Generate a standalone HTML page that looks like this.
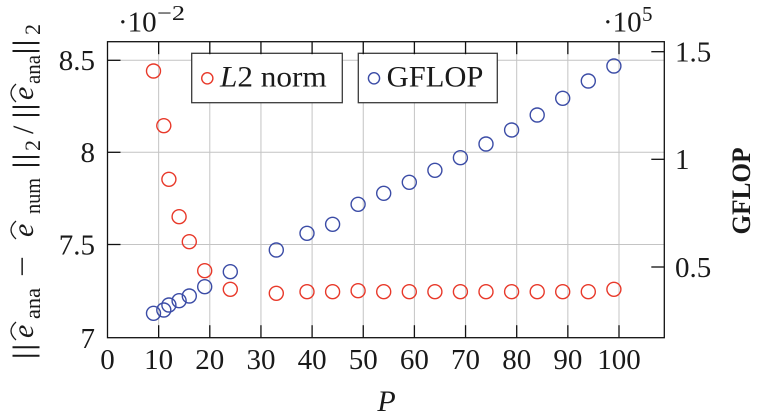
<!DOCTYPE html>
<html>
<head>
<meta charset="utf-8">
<style>
  html, body { margin: 0; padding: 0; background: #ffffff; }
  svg { display: block; }
  text { font-family: "Liberation Serif", "DejaVu Serif", serif; fill: #1a1a1a; }
</style>
</head>
<body>
<svg width="762" height="419" viewBox="0 0 762 419" xmlns="http://www.w3.org/2000/svg">
  <rect x="0" y="0" width="762" height="419" fill="#ffffff"/>

  <!-- grid -->
  <g stroke="#c4c4c4" stroke-width="1" fill="none">
    <line x1="158.65" y1="41.7" x2="158.65" y2="337.7"/>
    <line x1="209.8" y1="41.7" x2="209.8" y2="337.7"/>
    <line x1="260.95" y1="41.7" x2="260.95" y2="337.7"/>
    <line x1="312.1" y1="41.7" x2="312.1" y2="337.7"/>
    <line x1="363.25" y1="41.7" x2="363.25" y2="337.7"/>
    <line x1="414.4" y1="41.7" x2="414.4" y2="337.7"/>
    <line x1="465.55" y1="41.7" x2="465.55" y2="337.7"/>
    <line x1="516.7" y1="41.7" x2="516.7" y2="337.7"/>
    <line x1="567.85" y1="41.7" x2="567.85" y2="337.7"/>
    <line x1="619" y1="41.7" x2="619" y2="337.7"/>
    <line x1="107.5" y1="60.3" x2="664.3" y2="60.3"/>
    <line x1="107.5" y1="152.3" x2="664.3" y2="152.3"/>
    <line x1="107.5" y1="244.5" x2="664.3" y2="244.5"/>
  </g>

  <!-- L2 norm (red) -->
  <g stroke="#e8392a" stroke-width="1.4" fill="none">
    <circle cx="153.5" cy="71" r="7"/>
    <circle cx="163.8" cy="125.7" r="7"/>
    <circle cx="168.9" cy="179.3" r="7"/>
    <circle cx="179.1" cy="216.7" r="7"/>
    <circle cx="189.3" cy="241.7" r="7"/>
    <circle cx="204.7" cy="270.7" r="7"/>
    <circle cx="230.3" cy="289.3" r="7"/>
    <circle cx="276.3" cy="293.3" r="7"/>
    <circle cx="307.0" cy="291.7" r="7"/>
    <circle cx="332.6" cy="291.7" r="7"/>
    <circle cx="358.1" cy="290.7" r="7"/>
    <circle cx="383.7" cy="291.7" r="7"/>
    <circle cx="409.3" cy="291.7" r="7"/>
    <circle cx="434.9" cy="291.7" r="7"/>
    <circle cx="460.4" cy="291.7" r="7"/>
    <circle cx="486.0" cy="291.7" r="7"/>
    <circle cx="511.6" cy="291.7" r="7"/>
    <circle cx="537.2" cy="291.7" r="7"/>
    <circle cx="562.7" cy="291.7" r="7"/>
    <circle cx="588.3" cy="291.7" r="7"/>
    <circle cx="613.9" cy="289.3" r="7"/>
  </g>

  <!-- GFLOP (blue) -->
  <g stroke="#3b4ca6" stroke-width="1.4" fill="none">
    <circle cx="153.5" cy="313.3" r="7"/>
    <circle cx="163.8" cy="310" r="7"/>
    <circle cx="168.9" cy="305" r="7"/>
    <circle cx="179.1" cy="300.7" r="7"/>
    <circle cx="189.3" cy="296" r="7"/>
    <circle cx="204.7" cy="286.7" r="7"/>
    <circle cx="230.3" cy="271.7" r="7"/>
    <circle cx="276.3" cy="250" r="7"/>
    <circle cx="307.0" cy="233.3" r="7"/>
    <circle cx="332.6" cy="224.3" r="7"/>
    <circle cx="358.1" cy="204.3" r="7"/>
    <circle cx="383.7" cy="193.3" r="7"/>
    <circle cx="409.3" cy="182.3" r="7"/>
    <circle cx="434.9" cy="170.3" r="7"/>
    <circle cx="460.4" cy="157.7" r="7"/>
    <circle cx="486.0" cy="144" r="7"/>
    <circle cx="511.6" cy="130" r="7"/>
    <circle cx="537.2" cy="115" r="7"/>
    <circle cx="562.7" cy="98.3" r="7"/>
    <circle cx="588.3" cy="81" r="7"/>
    <circle cx="613.9" cy="66" r="7"/>
  </g>

  <!-- legends -->
  <rect x="191.7" y="53.3" width="150.6" height="49.4" fill="#ffffff" stroke="#3a3a3a" stroke-width="1.3"/>
  <circle cx="207.3" cy="78.3" r="5.6" fill="none" stroke="#e8392a" stroke-width="1.4"/>
  <text x="220" y="86.7" font-size="30" textLength="106.7" lengthAdjust="spacingAndGlyphs"><tspan font-style="italic">L</tspan>2 norm</text>

  <rect x="358.3" y="53.3" width="139" height="49.4" fill="#ffffff" stroke="#3a3a3a" stroke-width="1.3"/>
  <circle cx="374" cy="78.3" r="5.6" fill="none" stroke="#3b4ca6" stroke-width="1.4"/>
  <text x="386.7" y="86.7" font-size="30" textLength="96.7" lengthAdjust="spacingAndGlyphs">GFLOP</text>

  <!-- axis frame -->
  <rect x="107.5" y="41.7" width="556.8" height="296" fill="none" stroke="#111111" stroke-width="1.3"/>

  <!-- ticks -->
  <g stroke="#111111" stroke-width="1.3">
    <line x1="158.65" y1="337.7" x2="158.65" y2="325.2"/>
    <line x1="209.8" y1="337.7" x2="209.8" y2="325.2"/>
    <line x1="260.95" y1="337.7" x2="260.95" y2="325.2"/>
    <line x1="312.1" y1="337.7" x2="312.1" y2="325.2"/>
    <line x1="363.25" y1="337.7" x2="363.25" y2="325.2"/>
    <line x1="414.4" y1="337.7" x2="414.4" y2="325.2"/>
    <line x1="465.55" y1="337.7" x2="465.55" y2="325.2"/>
    <line x1="516.7" y1="337.7" x2="516.7" y2="325.2"/>
    <line x1="567.85" y1="337.7" x2="567.85" y2="325.2"/>
    <line x1="619" y1="337.7" x2="619" y2="325.2"/>
    <line x1="158.65" y1="41.7" x2="158.65" y2="54.2"/>
    <line x1="209.8" y1="41.7" x2="209.8" y2="54.2"/>
    <line x1="260.95" y1="41.7" x2="260.95" y2="54.2"/>
    <line x1="312.1" y1="41.7" x2="312.1" y2="54.2"/>
    <line x1="363.25" y1="41.7" x2="363.25" y2="54.2"/>
    <line x1="414.4" y1="41.7" x2="414.4" y2="54.2"/>
    <line x1="465.55" y1="41.7" x2="465.55" y2="54.2"/>
    <line x1="516.7" y1="41.7" x2="516.7" y2="54.2"/>
    <line x1="567.85" y1="41.7" x2="567.85" y2="54.2"/>
    <line x1="619" y1="41.7" x2="619" y2="54.2"/>
    <line x1="107.5" y1="60.3" x2="120.5" y2="60.3"/>
    <line x1="107.5" y1="152.3" x2="120.5" y2="152.3"/>
    <line x1="107.5" y1="244.5" x2="120.5" y2="244.5"/>
    <line x1="664.3" y1="51.7" x2="651.3" y2="51.7"/>
    <line x1="664.3" y1="159.3" x2="651.3" y2="159.3"/>
    <line x1="664.3" y1="267" x2="651.3" y2="267"/>
  </g>

  <!-- x tick labels -->
  <g font-size="29" text-anchor="middle">
    <text x="107.5" y="369">0</text>
    <text x="158.65" y="369">10</text>
    <text x="209.8" y="369">20</text>
    <text x="260.95" y="369">30</text>
    <text x="312.1" y="369">40</text>
    <text x="363.25" y="369">50</text>
    <text x="414.4" y="369">60</text>
    <text x="465.55" y="369">70</text>
    <text x="516.7" y="369">80</text>
    <text x="567.85" y="369">90</text>
    <text x="619" y="369">100</text>
  </g>

  <!-- left tick labels -->
  <g font-size="29" text-anchor="end">
    <text x="95" y="70">8.5</text>
    <text x="95" y="162">8</text>
    <text x="95" y="254.3">7.5</text>
    <text x="95" y="347.8">7</text>
  </g>

  <!-- right tick labels -->
  <g font-size="29" text-anchor="start">
    <text x="675" y="61.6">1.5</text>
    <text x="675" y="169.2">1</text>
    <text x="675" y="276.9">0.5</text>
  </g>

  <!-- scale factors -->
  <text x="118" y="31.7" font-size="29">·10</text>
  <text x="157" y="20" font-size="21" textLength="28" lengthAdjust="spacingAndGlyphs">−2</text>
  <text x="603" y="31.7" font-size="29">·10</text>
  <text x="642" y="21" font-size="21">5</text>

  <!-- x label -->
  <text x="386.5" y="411" font-size="30" font-style="italic" text-anchor="middle">P</text>

  <!-- right label -->
  <text transform="translate(750,191) rotate(-90)" font-size="26" font-weight="bold" text-anchor="middle" textLength="87" lengthAdjust="spacingAndGlyphs">GFLOP</text>

  <!-- left label (rotated) -->
  <g transform="translate(33,360) rotate(-90)">
    <text x="0" y="0" font-size="30" textLength="17" lengthAdjust="spacingAndGlyphs">||</text>
    <text x="22" y="0" font-size="30" font-style="italic">e</text>
    <text x="41" y="7" font-size="22" textLength="31" lengthAdjust="spacingAndGlyphs">ana</text>
    <text x="83" y="-1" font-size="30" textLength="21" lengthAdjust="spacingAndGlyphs">−</text>
    <text x="123" y="0" font-size="30" font-style="italic">e</text>
    <text x="146" y="7" font-size="22" textLength="36" lengthAdjust="spacingAndGlyphs">num</text>
    <text x="191" y="0" font-size="30" textLength="16" lengthAdjust="spacingAndGlyphs">||</text>
    <text x="209" y="7" font-size="22">2</text>
    <text x="226" y="0" font-size="30">/</text>
    <text x="241" y="0" font-size="30" textLength="16" lengthAdjust="spacingAndGlyphs">||</text>
    <text x="260" y="0" font-size="30" font-style="italic">e</text>
    <text x="276" y="7" font-size="22" textLength="29" lengthAdjust="spacingAndGlyphs">ana</text>
    <text x="305" y="0" font-size="30" textLength="16" lengthAdjust="spacingAndGlyphs">||</text>
    <text x="325" y="7" font-size="22">2</text>
    <g stroke="#1a1a1a" stroke-width="1.3" fill="none">
      <path d="M20,-17 Q29,-27 38,-17"/>
      <path d="M121,-17 Q130,-27 139,-17"/>
      <path d="M258,-17 Q267,-27 276,-17"/>
    </g>
  </g>
</svg>
</body>
</html>
